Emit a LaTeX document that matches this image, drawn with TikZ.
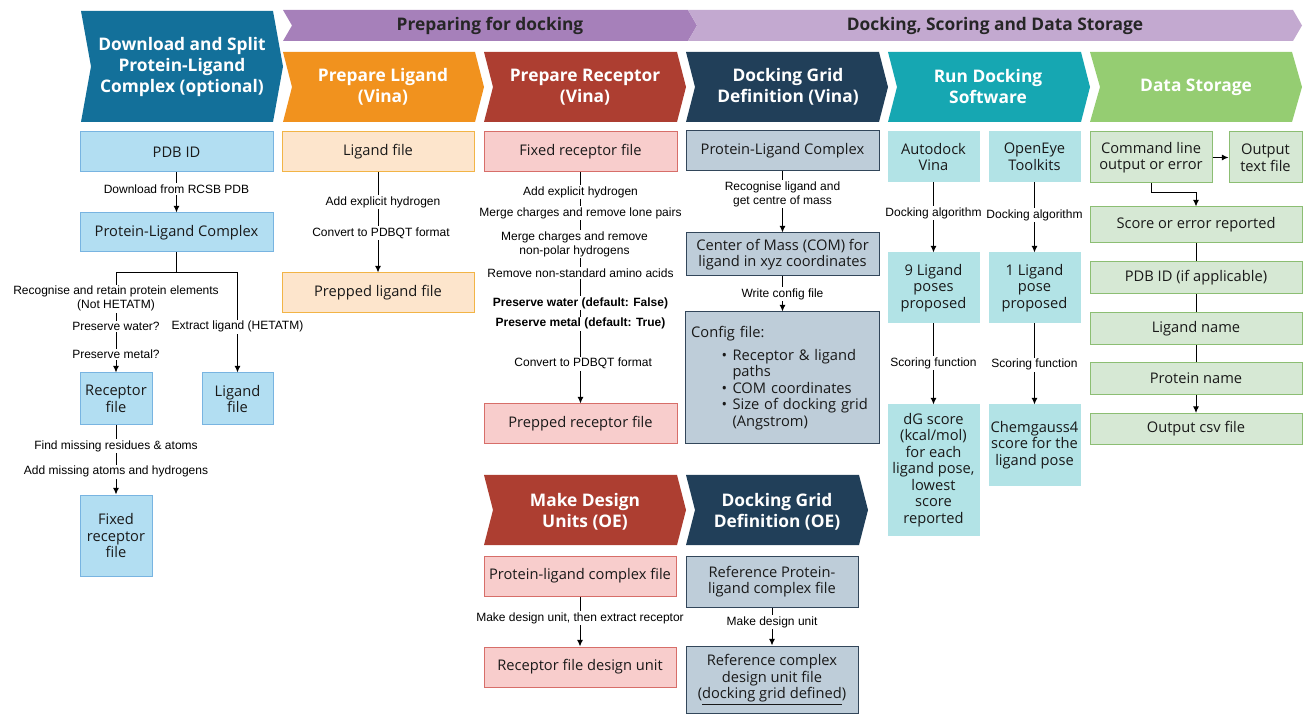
\documentclass[tikz,border=0pt]{standalone}
\usepackage{fontspec}
\setmainfont{Open Sans}
\newfontfamily\arialf{Liberation Sans}
\usepackage{tikz}
\usetikzlibrary{arrows.meta}
\definecolor{dlblue}{RGB}{19,112,154}
\definecolor{prepviolet}{RGB}{166,128,186}
\definecolor{dockviolet}{RGB}{195,169,208}
\definecolor{ligorange}{RGB}{241,146,30}
\definecolor{recred}{RGB}{173,62,49}
\definecolor{gridnavy}{RGB}{33,63,89}
\definecolor{runteal}{RGB}{22,167,178}
\definecolor{storegreen}{RGB}{149,205,114}
\definecolor{bluefill}{RGB}{178,222,242}
\definecolor{blueline}{RGB}{120,180,225}
\definecolor{orangefill}{RGB}{253,229,204}
\definecolor{orangeline}{RGB}{242,180,70}
\definecolor{pinkfill}{RGB}{248,205,204}
\definecolor{pinkline}{RGB}{215,110,105}
\definecolor{greyfill}{RGB}{190,205,217}
\definecolor{greyline}{RGB}{50,70,90}
\definecolor{tealfill}{RGB}{178,227,230}
\definecolor{greenfill}{RGB}{214,232,212}
\definecolor{greenline}{RGB}{140,190,115}
\tikzstyle{filebox}=[rectangle,draw,line width=0.75pt,align=center,inner xsep=1pt,inner ysep=2pt,text=black!90,font=\fontsize{11}{12.4}\selectfont]
\tikzstyle{bluebox}=[filebox,draw=blueline,fill=bluefill]
\tikzstyle{orangebox}=[filebox,draw=orangeline,fill=orangefill]
\tikzstyle{pinkbox}=[filebox,draw=pinkline,fill=pinkfill]
\tikzstyle{greybox}=[filebox,draw=greyline,fill=greyfill]
\tikzstyle{tealbox}=[filebox,draw=tealfill,fill=tealfill]
\tikzstyle{greenbox}=[filebox,draw=greenline,fill=greenfill]
\tikzstyle{stage}=[text=white,align=center,font=\bfseries\fontsize{13}{15.75}\selectfont]
\tikzstyle{band}=[text=black!85,font=\bfseries\fontsize{13}{15.75}\selectfont]
\tikzstyle{lbl}=[fill=white,inner sep=1pt,align=center,font=\arialf\fontsize{9}{10.5}\selectfont]
\tikzstyle{wd}=[minimum width=#1*0.75pt]
\tikzstyle{hgt}=[minimum height=#1*0.75pt]
% colour, left, top, right, bottom, depth of the point
\newcommand{\stagearrow}[6]{%
  \fill[#1] (#2,#3) -- ({#4-#6},#3) -- (#4,{(#3+#5)/2}) -- ({#4-#6},#5) -- (#2,#5) -- ({#2+#6},{(#3+#5)/2}) -- cycle;}
\begin{document}
\begin{tikzpicture}[x=0.75pt,y=-0.75pt,>={Latex[length=5pt,width=4.5pt]},line width=0.75pt]
\useasboundingbox (0,0) rectangle (1314,723);
% headers
\stagearrow{dlblue}{81}{11}{283}{122}{10}
\stagearrow{prepviolet}{283}{10}{697}{41}{9}
\stagearrow{dockviolet}{688}{10}{1302}{41}{9}
\stagearrow{ligorange}{283}{52}{484}{122}{9}
\stagearrow{recred}{484}{52}{686}{122}{9}
\stagearrow{gridnavy}{686}{52}{888}{122}{9}
\stagearrow{runteal}{888}{52}{1090}{122}{9}
\stagearrow{storegreen}{1090}{52}{1302}{122}{10}
\stagearrow{recred}{484}{475}{686}{545}{9}
\stagearrow{gridnavy}{686}{475}{868}{545}{9}
\node[stage] (dl) at (182,67) {Download and Split\\Protein-Ligand\\Complex (optional)};
\node[band] (prep) at (490,26) {Preparing for docking};
\node[band] (dock) at (995,26) {Docking, Scoring and Data Storage};
\node[stage] (pl) at (383,87) {Prepare Ligand\\(Vina)};
\node[stage] (pr) at (585,87) {Prepare Receptor\\(Vina)};
\node[stage] (dgv) at (788,87) {Docking Grid\\Definition (Vina)};
\node[stage] (run) at (988,87) {Run Docking\\Software};
\node[stage] (ds) at (1196,87) {Data Storage};
\node[stage] (mdu) at (585,512) {Make Design\\Units (OE)};
\node[stage] (dgoe) at (777,512) {Docking Grid\\Definition (OE)};
% download and split
\node[bluebox,wd=193,hgt=40] (pdb) at (176.5,152) {PDB ID};
\node[bluebox,wd=193,hgt=39] (plc) at (176.5,232.5) {Protein-Ligand Complex};
\node[bluebox,wd=72,hgt=52] (rec) at (116,399) {Receptor\\file};
\node[bluebox,wd=71,hgt=52] (lig) at (237.5,399) {Ligand\\file};
\node[bluebox,wd=72,hgt=81] (fix) at (116,535.5) {Fixed\\receptor\\file};
\coordinate (br) at (176.5,273);
\draw[->] (pdb) -- (plc) node[lbl,pos=.415] {Download from RCSB PDB};
\draw (plc) -- (br);
\draw[->] (br) -| (rec)
  node[lbl,pos=.63] {Recognise and retain protein elements\\(Not HETATM)}
  node[lbl,pos=.77] {Preserve water?}
  node[lbl,pos=.91] {Preserve metal?};
\draw[->] (br) -| (lig) node[lbl,pos=.77] {Extract ligand (HETATM)};
\draw[->] (rec) -- (fix)
  node[lbl,pos=.3] {Find missing residues \& atoms}
  node[lbl,pos=.67] {Add missing atoms and hydrogens};
% ligand
\node[orangebox,wd=192,hgt=40] (ligf) at (378,152) {Ligand file};
\node[orangebox,wd=192,hgt=40] (pligf) at (378,293) {Prepped ligand file};
\draw[->] (ligf) -- (pligf)
  node[lbl,pos=.297,xshift=3.75pt] {Add explicit hydrogen}
  node[lbl,pos=.604,xshift=2.25pt] {Convert to PDBQT format};
% receptor
\node[pinkbox,wd=193,hgt=40] (fixr) at (580.5,152) {Fixed receptor file};
\node[pinkbox,wd=193,hgt=40] (precf) at (580.5,424) {Prepped receptor file};
\draw[->] (fixr) -- (precf)
  node[lbl,pos=.086] {Add explicit hydrogen}
  node[lbl,pos=.177] {Merge charges and remove lone pairs}
  node[lbl,pos=.31,xshift=-4.5pt] {Merge charges and remove\\non-polar hydrogens}
  node[lbl,pos=.435] {Remove non-standard amino acids}
  node[lbl,pos=.565] {\bfseries Preserve water (default: False)}
  node[lbl,pos=.655] {\bfseries Preserve metal (default: True)}
  node[lbl,pos=.828,xshift=2pt] {Convert to PDBQT format};
\node[pinkbox,wd=192,hgt=40] (plcf) at (580,576) {Protein-ligand complex file};
\node[pinkbox,wd=192,hgt=40] (rfdu) at (580,667) {Receptor file design unit};
\draw[->] (plcf) -- (rfdu) node[lbl,pos=.43] {Make design unit, then extract receptor};
% docking grid
\node[greybox,wd=193,hgt=40] (gplc) at (782.5,151) {Protein-Ligand Complex};
\node[greybox,wd=193,hgt=43] (com) at (782.5,254.5) {Center of Mass (COM) for\\ligand in xyz coordinates};
\node[greybox,wd=193,hgt=132,align=left,inner xsep=4pt,text width=137pt] (conf) at (782.5,378) {Config file:
  \begin{list}{\textbullet}{\setlength{\leftmargin}{31pt}\setlength{\labelsep}{4pt}\setlength{\topsep}{5pt}\setlength{\itemsep}{0pt}\setlength{\parsep}{0pt}\raggedright}
  \item Receptor \& ligand paths
  \item COM coordinates
  \item Size of docking grid (Angstrom)
  \end{list}};
\draw[->] (gplc) -- (com) node[lbl,pos=.37] {Recognise ligand and\\get centre of mass};
\draw[->] (com) -- (conf) node[lbl,pos=.5] {Write config file};
\node[greybox,wd=172,hgt=51] (ref) at (772,581.5) {Reference Protein-\\ligand complex file};
\node[greybox,wd=172,hgt=67] (refdu) at (772,679.5) {Reference complex\\design unit file\\(\underline{docking grid defined})};
\draw[->] (ref) -- (refdu) node[lbl,pos=.385] {Make design unit};
% run docking
\node[tealbox,wd=91,hgt=50] (vina) at (933.5,157) {Autodock\\Vina};
\node[tealbox,wd=91,hgt=50] (oe) at (1034.5,157) {OpenEye\\Toolkits};
\node[tealbox,wd=91,hgt=70] (pose9) at (933.5,288) {9 Ligand\\poses\\proposed};
\node[tealbox,wd=91,hgt=70] (pose1) at (1034.5,288) {1 Ligand\\pose\\proposed};
\node[tealbox,wd=91,hgt=130] (dg) at (933.5,470) {dG score\\(kcal/mol)\\for each\\ligand pose,\\lowest\\score\\reported};
\node[tealbox,wd=91,hgt=80] (cg) at (1034.5,445) {Chemgauss4\\score for the\\ligand pose};
\draw[->] (vina) -- (pose9) node[lbl,pos=.44] {Docking algorithm};
\draw[->] (oe) -- (pose1) node[lbl,pos=.465] {Docking algorithm};
\draw[->] (pose9) -- (dg) node[lbl,pos=.49] {Scoring function};
\draw[->] (pose1) -- (cg) node[lbl,pos=.51] {Scoring function};
% data storage
\node[greenbox,wd=122,hgt=51] (cmd) at (1151,157.5) {Command line\\output or error};
\node[greenbox,wd=73,hgt=51] (otxt) at (1265.5,157.5) {Output\\text file};
\node[greenbox,wd=212,hgt=36] (score) at (1196,225) {Score or error reported};
\node[greenbox,wd=212,hgt=32] (pdbid) at (1196,278) {PDB ID (if applicable)};
\node[greenbox,wd=212,hgt=32] (lname) at (1196,329) {Ligand name};
\node[greenbox,wd=212,hgt=32] (pname) at (1196,378.5) {Protein name};
\node[greenbox,wd=212,hgt=31] (csv) at (1196,429) {Output csv file};
\coordinate (elb) at (1196,193);
\draw[->] (cmd) -- (otxt);
\draw[->] (cmd) |- (elb) -- (score);
\draw (score) -- (pdbid);
\draw (pdbid) -- (lname);
\draw (lname) -- (pname);
\draw[->] (pname) -- (csv);
\end{tikzpicture}
\end{document}
